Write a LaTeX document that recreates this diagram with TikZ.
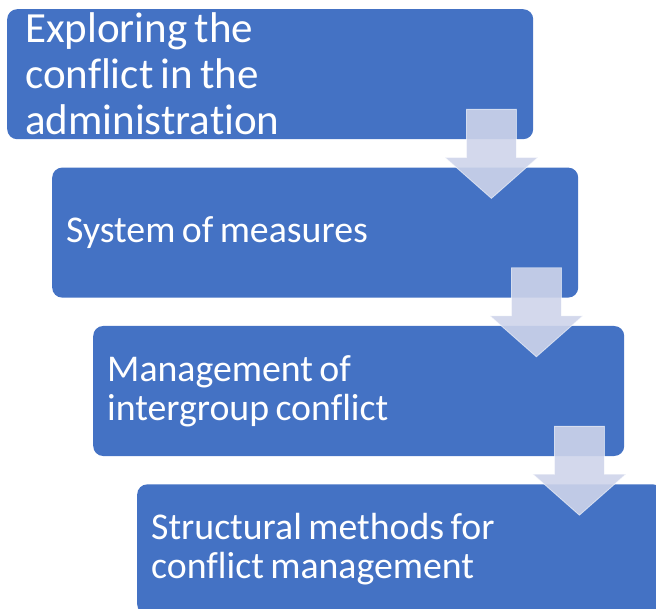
\documentclass[tikz,border=0pt]{standalone}
\usepackage{fontspec}
\setmainfont{Carlito}[Ligatures=NoCommon]
\usetikzlibrary{positioning, calc}
\definecolor{stepblue}{HTML}{4472C4}
\definecolor{flowlav}{RGB}{206,212,234}

\begin{document}
\begin{tikzpicture}[
    x=1pt, y=1pt,
    box/.style={
        rectangle, fill=stepblue, rounded corners=10pt,
        minimum height=130pt, text width=498pt,
        inner xsep=14pt, inner ysep=0pt,
        align=left, text=white, font=\fontsize{37.8}{39}\selectfont,
        execute at begin node={\spaceskip=0.17em\relax}
    },
    flow/.style={fill=flowlav, fill opacity=0.9,
        draw=white, draw opacity=0.6, line width=0.8pt},
    pics/downarrow/.style={code={
        \path[flow] (-25,0) -- (25,0) -- (25,-48) -- (46.5,-48) -- (0,-89)
            -- (-46.5,-48) -- (-25,-48) -- cycle;
    }}
]
\clip (0,0) rectangle (656,-609);

% --- Boxes ---
\node[box, anchor=north west, inner xsep=18pt, text width=490pt,
    font=\fontsize{43}{46}\selectfont] (explore) at (7,-9)
    {Exploring the\\conflict in the\\administration};
\node[box, below=28pt of explore.south west, anchor=north west, xshift=45pt]
    (system) {System of measures};
\node[box, below=28pt of system.south west, anchor=north west, xshift=41pt,
    text width=503pt] (manage) {Management of\\intergroup conflict};
\node[box, below=28pt of manage.south west, anchor=north west, xshift=44pt]
    (struct) {Structural methods for\\conflict management};

% --- Arrows between the steps ---
\pic at ($(explore.south east)+(-42,30)$) {downarrow};
\pic at ($(system.south east)+(-42,30)$) {downarrow};
\pic at ($(manage.south east)+(-45,30)$) {downarrow};

\end{tikzpicture}
\end{document}
